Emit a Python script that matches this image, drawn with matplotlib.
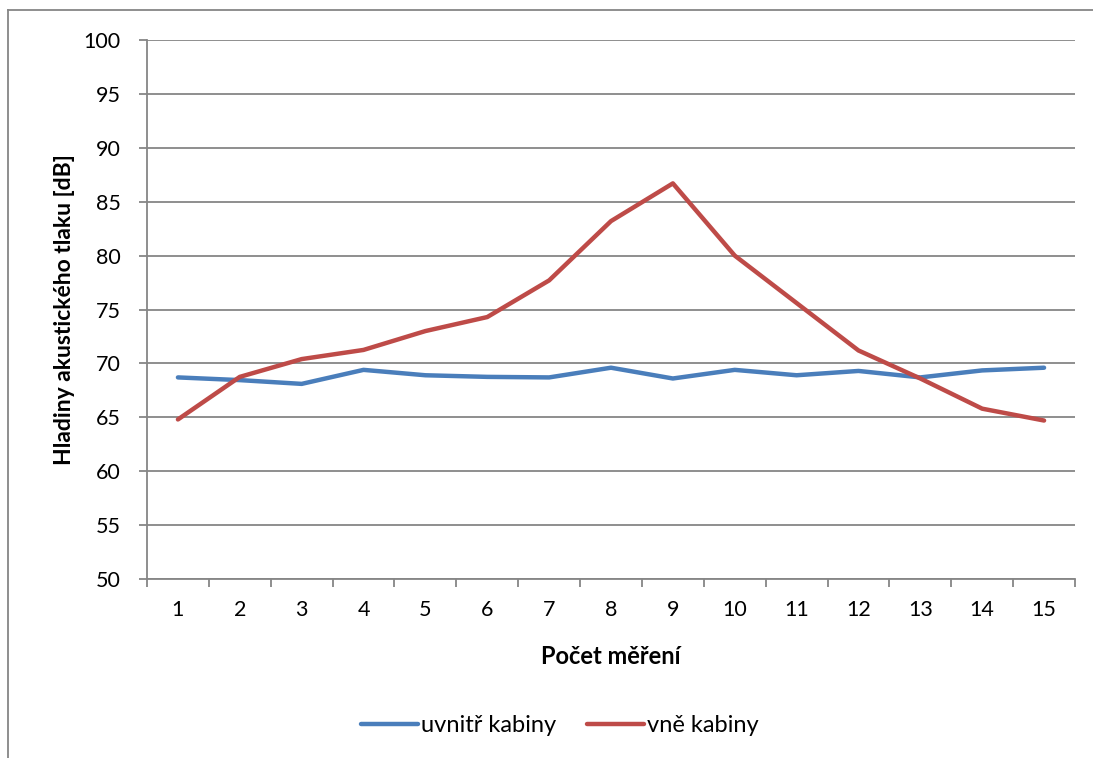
import numpy as np
import matplotlib.pyplot as plt
from matplotlib.lines import Line2D

# hodnoty mereni hladiny akustickeho tlaku
mereni = list(range(1, 16))
uvnitr = [68.7, 68.45, 68.1, 69.4, 68.9, 68.75, 68.7, 69.6, 68.6, 69.4, 68.9, 69.3, 68.7, 69.35, 69.6]
vne = [64.8, 68.75, 70.4, 71.25, 73.0, 74.3, 77.7, 83.2, 86.7, 80.0, 75.6, 71.2, 68.6, 65.8, 64.7]
y_ticks = list(range(50, 101, 5))

plt.rcParams['font.family'] = ['Lato', 'DejaVu Sans']

W, H = 1093, 758
fig = plt.figure(figsize=(W / 100, H / 100), dpi=100)
ax = fig.add_axes([147 / W, 1 - 579 / H, (1075 - 147) / W, (579 - 40) / H])

seda = '#868686'
modra = '#4A7EBB'
cervena = '#BE4B48'

ax.plot(mereni, uvnitr, color=modra, lw=3.2, solid_capstyle='round', solid_joinstyle='round', zorder=3)
ax.plot(mereni, vne, color=cervena, lw=3.2, solid_capstyle='round', solid_joinstyle='round', zorder=3)

ax.set_xlim(0.5, 15.5)
ax.set_ylim(50, 100)
ax.set_yticks(y_ticks)
ax.set_xticks(mereni)
ax.set_xticks(np.arange(0.5, 16, 1), minor=True)
ax.yaxis.grid(True, color=seda, lw=1.3)
ax.set_axisbelow(True)

for s in ['top', 'right']:
    ax.spines[s].set_visible(False)
for s in ['left', 'bottom']:
    ax.spines[s].set_color(seda)
    ax.spines[s].set_linewidth(1.3)

ax.tick_params(axis='y', length=6, width=1.3, color=seda, labelsize=15.5, pad=13)
ax.tick_params(axis='x', which='major', length=0, labelsize=15.5, pad=15)
ax.tick_params(axis='x', which='minor', length=6, width=1.3, color=seda, direction='out')

ax.set_xlabel('Počet měření', fontsize=17, fontweight='bold', labelpad=18)
ax.set_ylabel('Hladiny akustického tlaku [dB]', fontsize=16.5, fontweight='bold', labelpad=6)

handles = [Line2D([], [], color=modra, lw=3.2, solid_capstyle='round'),
           Line2D([], [], color=cervena, lw=3.2, solid_capstyle='round')]
fig.legend(handles, ['uvnitř kabiny', 'vně kabiny'], loc='center', bbox_to_anchor=(560 / W, 1 - 726 / H),
           ncol=2, frameon=False, fontsize=17, handlelength=2.4, handletextpad=0.15, columnspacing=1.3)

# ramecek grafu
fig.add_artist(Line2D([8 / W, 8 / W], [0, 1 - 10 / H], color=seda, lw=1.3, transform=fig.transFigure))
fig.add_artist(Line2D([8 / W, 1], [1 - 10 / H, 1 - 10 / H], color=seda, lw=1.3, transform=fig.transFigure))

fig.savefig('out.png', dpi=100)
